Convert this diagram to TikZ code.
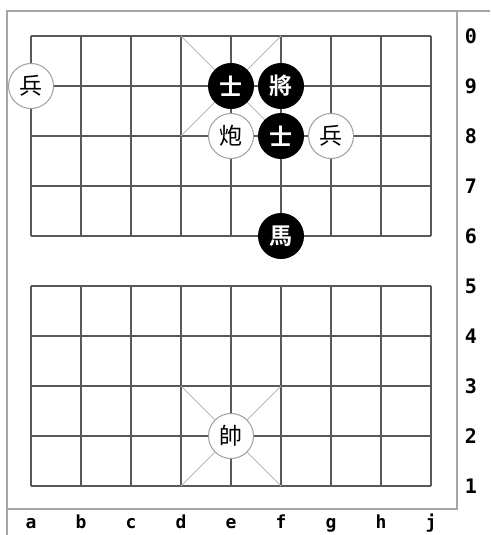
\documentclass[tikz,border=0pt]{standalone}
\usepackage{fontspec}
\newfontfamily\cjk{Noto Sans CJK TC}[BoldFont={Noto Sans CJK TC Bold}]
\newfontfamily\boardfont{DejaVu Sans Mono}[BoldFont={DejaVu Sans Mono Bold}]
\usetikzlibrary{positioning}

\begin{document}
\begin{tikzpicture}[
    x=1pt, y=-1pt,
    gridline/.style={draw=black!65, line width=1.1pt},
    palace/.style={draw=gray!55, line width=0.8pt},
    frameline/.style={draw=gray!70, line width=2pt},
    redpiece/.style={circle, draw=gray!75, fill=white, line width=1pt, minimum size=45pt, inner sep=0pt, text=black, font=\cjk\fontsize{23}{23}\selectfont},
    blackpiece/.style={circle, draw=black, fill=black, line width=1pt, minimum size=45pt, inner sep=0pt, text=white, font=\cjk\bfseries\fontsize{23}{23}\selectfont},
    coordlabel/.style={inner sep=0pt, font=\boardfont\bfseries\fontsize{20}{20}\selectfont}
]
    \useasboundingbox (0,0) rectangle (490,535);

    % Frame
    \draw [frameline] (490,11) -- (7,11) -- (7,535);
    \draw [frameline] (457,11) -- (457,509) -- (7,509);

    % Board (two halves, river between)
    \foreach \i in {0,...,8} {
        \draw [gridline] (31+50*\i,36) -- (31+50*\i,236);
        \draw [gridline] (31+50*\i,286) -- (31+50*\i,486);
    }
    \foreach \k in {0,...,9}
        \draw [gridline] (31,36+50*\k) -- (431,36+50*\k);

    % Palaces
    \draw [palace] (181,36) -- (281,136) (281,36) -- (181,136);
    \draw [palace] (181,386) -- (281,486) (281,386) -- (181,486);

    % Pieces
    \node (pawnA) [redpiece] at (31,86) {兵};
    \node (advisorA) [blackpiece] at (231,86) {士};
    \node (general) [blackpiece] at (281,86) {將};
    \node (cannon) [redpiece] at (231,136) {炮};
    \node (advisorB) [blackpiece] at (281,136) {士};
    \node (pawnB) [redpiece] at (331,136) {兵};
    \node (horse) [blackpiece] at (281,236) {馬};
    \node (marshal) [redpiece] at (231,436) {帥};

    % Coordinates
    \foreach \r [count=\k from 0] in {0,9,8,7,6,5,4,3,2,1}
        \node (row\r) [coordlabel] at (471,36+50*\k) {\r};
    \foreach \c [count=\i from 0] in {a,b,c,d,e,f,g,h,j}
        \node (col\c) [coordlabel, anchor=base, font=\boardfont\bfseries\fontsize{18}{18}\selectfont] at (31+50*\i,528) {\c};
\end{tikzpicture}
\end{document}
